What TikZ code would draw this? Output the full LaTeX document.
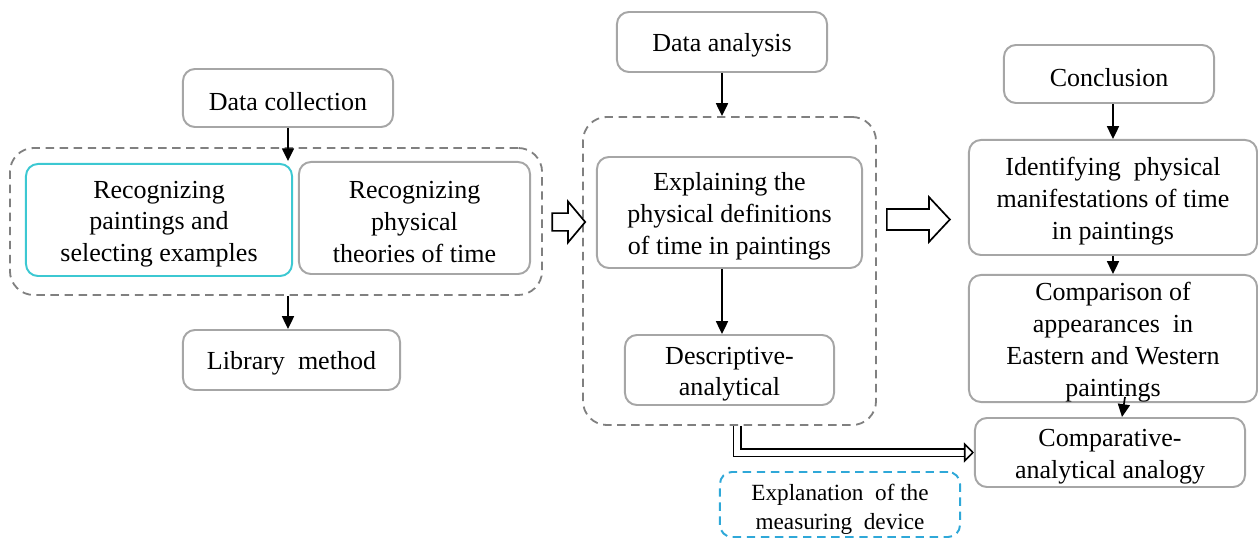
\documentclass[tikz,border=0pt]{standalone}
\usepackage{fontspec}
\setmainfont{Liberation Serif}
\usetikzlibrary{positioning, arrows.meta, shapes.arrows}
\definecolor{boxgray}{HTML}{A6A6A6}
\definecolor{dashgray}{HTML}{808080}
\definecolor{aqua}{HTML}{3CC8D2}
\definecolor{sky}{HTML}{2FA8D8}
\newcommand{\topgap}{\rule{0pt}{0.64cm}}

\begin{document}
\begin{tikzpicture}[
    x=0.025cm, y=-0.025cm,
    box/.style={draw=boxgray, line width=1.4pt, rounded corners=0.3cm, align=center, inner sep=0pt},
    group/.style={draw=dashgray, line width=1.3pt, dashed, dash pattern=on 6pt off 4pt, rounded corners=0.6cm},
    arr/.style={-{Triangle[length=3.2mm, width=3mm]}, line width=1.2pt},
    hollow/.style={single arrow, draw, line width=1.2pt, fill=white, inner xsep=0pt},
    dbl/.style={double, double distance=0.15cm, line width=1.1pt, -{Triangle[open, length=2.5mm, width=5mm]}},
    every node/.style={font=\fontsize{18.5}{22.7}\selectfont}
]
\useasboundingbox (0,0) rectangle (1258,538);

% Data collection
\node[box, minimum width=5.25cm, minimum height=1.45cm] (dc) at (288,98) {\topgap Data collection};
\node[group, minimum width=13.3cm, minimum height=3.675cm] (grp1) at (276,221.5) {};
\node[box, draw=aqua, minimum width=6.65cm, minimum height=2.8cm] (rp) at (159,220) {\topgap Recognizing\\paintings and\\selecting examples};
\node[box, minimum width=5.775cm, minimum height=2.8cm] (rt) at (414.5,218) {\topgap Recognizing\\physical\\theories of time};
\node[box, minimum width=5.425cm, minimum height=1.5cm] (lib) at (291.5,360) {\topgap Library\enspace method};

% Data analysis
\node[box, minimum width=5.25cm, minimum height=1.5cm] (da) at (722,42) {\topgap Data analysis};
\node[group, minimum width=7.325cm, minimum height=7.7cm] (grp2) at (729.5,271) {};
\node[box, minimum width=6.625cm, minimum height=2.775cm] (ex) at (729.5,212.5) {\topgap Explaining the\\physical definitions\\of time in paintings};
\node[box, minimum width=5.225cm, minimum height=1.75cm] (desc) at (729.5,370) {\topgap Descriptive-\\analytical};

% Conclusion
\node[box, minimum width=5.25cm, minimum height=1.45cm] (con) at (1109,74) {\topgap Conclusion};
\node[box, minimum width=7.2cm, minimum height=2.875cm] (idf) at (1113,197.5) {\topgap Identifying\enspace physical\\manifestations of time\\in paintings};
\node[box, minimum width=7.2cm, minimum height=3.175cm] (cmp) at (1113,338.5) {\topgap Comparison of\\appearances\enspace in\\Eastern and Western\\paintings};
\node[box, minimum width=6.75cm, minimum height=1.725cm] (ana) at (1110,452.5) {\topgap Comparative-\\analytical analogy};
\node[box, draw=sky, dashed, dash pattern=on 6pt off 4pt, minimum width=6cm, minimum height=1.625cm,
      font=\fontsize{16.5}{20.5}\selectfont] (dev) at (840,504.5) {\topgap Explanation\enspace of the\\measuring\enspace device};

% Hollow arrows between stages
\node[hollow, inner ysep=0.2cm, single arrow head extend=0.29cm, single arrow tip angle=100, minimum height=0.825cm] (h1) at (565,222) {};
\node[hollow, inner ysep=0.24cm, single arrow head extend=0.3cm, single arrow tip angle=94, minimum height=1.575cm] (h2) at (913.5,219.5) {};

% Arrows
\draw[arr] (dc.south) -- ([yshift=-0.35cm]grp1.north -| dc.south);
\draw[arr] (grp1.south -| dc.south) -- (lib.north -| dc.south);
\draw[arr] (da.south) -- (grp2.north -| da.south);
\draw[arr] (ex.south -| da.south) -- (desc.north -| da.south);
\draw[arr] (con.south -| idf.north) -- (idf.north);
\draw[arr] (idf.south) -- (cmp.north);
\draw[arr] ([xshift=0.3cm, yshift=0.15cm]cmp.south) -- ([xshift=0.3cm]ana.north);

% Double arrow to comparison
\draw[dbl] ([xshift=0.19cm]grp2.south) |- (ana.west);

\end{tikzpicture}
\end{document}
